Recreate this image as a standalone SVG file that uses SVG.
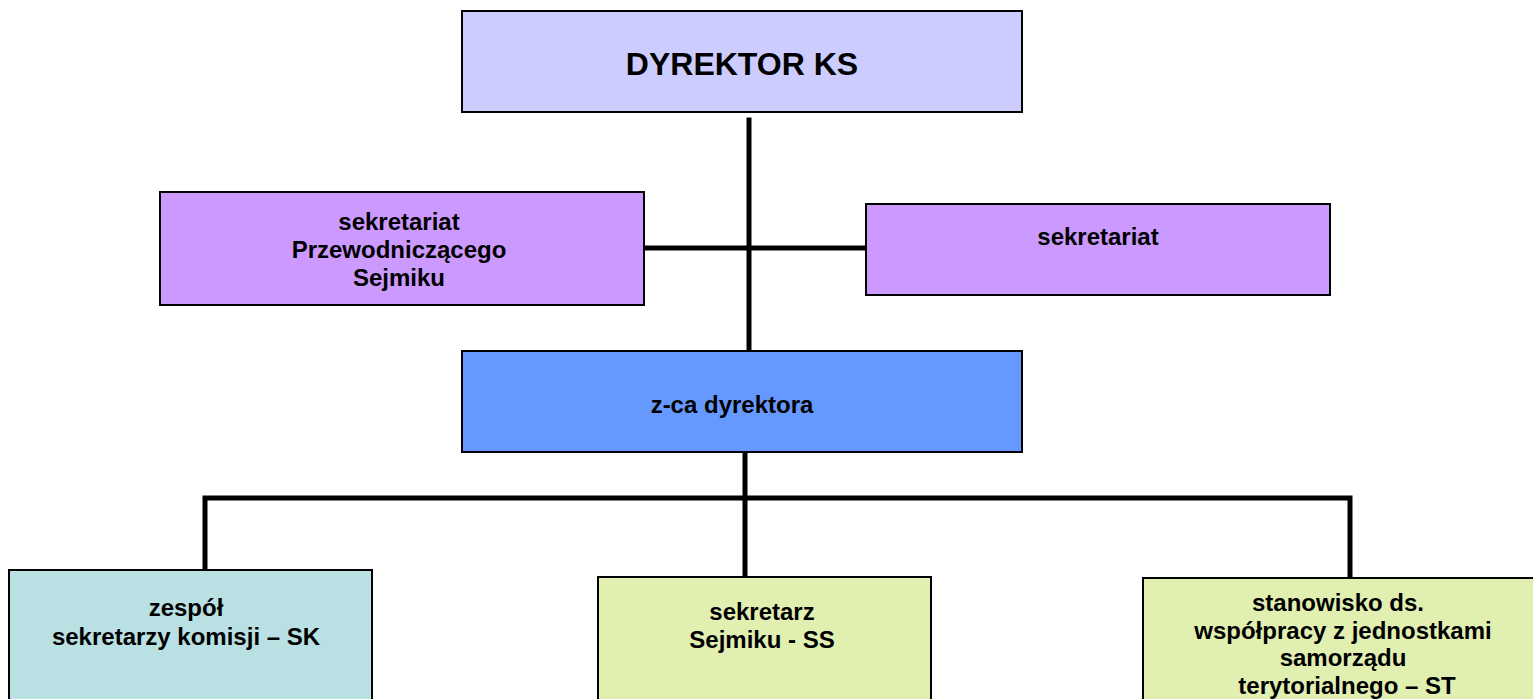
<svg xmlns="http://www.w3.org/2000/svg" width="1533" height="699" viewBox="0 0 1533 699">
<style>
.box{stroke:#000;stroke-width:2}
.t{font-family:"Liberation Sans",Arial,sans-serif;font-weight:bold;font-size:24px;fill:#000;text-anchor:middle}
.c{stroke:#000;stroke-width:5;fill:none;stroke-linecap:square}
</style>
<rect width="1533" height="699" fill="#fff"/>
<g id="connectors">
<line class="c" x1="749" y1="120" x2="749" y2="355"/>
<line class="c" x1="646" y1="248" x2="864" y2="248"/>
<line class="c" x1="745" y1="454" x2="745" y2="575"/>
<polyline class="c" points="205,568 205,498 1350,498 1350,576"/>
</g>
<g id="dyrektor">
<rect class="box" x="462" y="11" width="560" height="101" fill="#CCCCFF"/>
<text class="t" x="742" y="75" style="font-size:32px">DYREKTOR KS</text>
</g>
<g id="sekretariat-przew">
<rect class="box" x="160" y="192" width="484" height="113" fill="#CC99FF"/>
<text class="t" x="399" y="230">sekretariat</text>
<text class="t" x="399" y="258">Przewodniczącego</text>
<text class="t" x="399" y="286">Sejmiku</text>
</g>
<g id="sekretariat">
<rect class="box" x="866" y="204" width="464" height="91" fill="#CC99FF"/>
<text class="t" x="1098" y="245">sekretariat</text>
</g>
<g id="zca">
<rect class="box" x="462" y="351" width="560" height="101" fill="#6699FF"/>
<text class="t" x="732" y="413">z-ca dyrektora</text>
</g>
<g id="zespol">
<rect class="box" x="9" y="570" width="363" height="140" fill="#B9E0E2"/>
<text class="t" x="186" y="616">zespół</text>
<text class="t" x="186" y="645">sekretarzy komisji – SK</text>
</g>
<g id="sekretarz">
<rect class="box" x="598" y="577" width="333" height="140" fill="#E1EFB1"/>
<text class="t" x="762" y="620">sekretarz</text>
<text class="t" x="762" y="648">Sejmiku - SS</text>
</g>
<g id="stanowisko">
<rect class="box" x="1143" y="578" width="400" height="140" fill="#E1EFB1"/>
<text class="t" x="1338" y="611">stanowisko ds.</text>
<text class="t" x="1343" y="639">współpracy z jednostkami</text>
<text class="t" x="1343" y="666">samorządu</text>
<text class="t" x="1347" y="694">terytorialnego – ST</text>
</g>
</svg>
